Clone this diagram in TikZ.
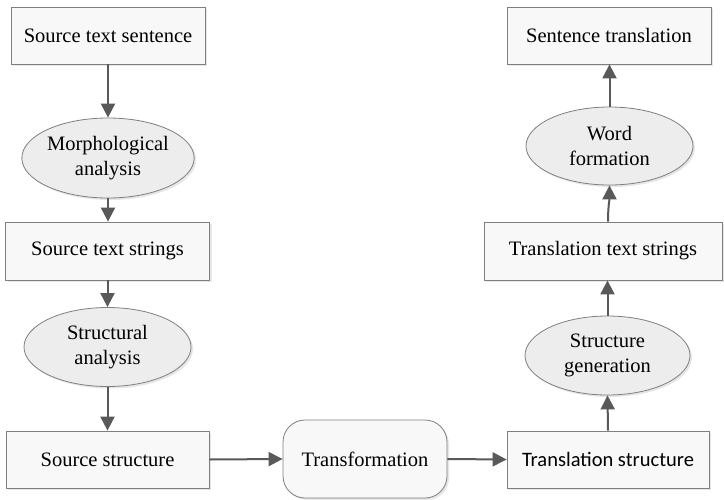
\documentclass[tikz,border=0pt]{standalone}
\usepackage{fontspec}
\setmainfont{Liberation Serif}
\newfontfamily\calfont{Carlito}
\usetikzlibrary{arrows.meta,shadows,shapes.geometric}
\definecolor{arrowgray}{HTML}{595959}
\definecolor{bordergray}{HTML}{7F7F7F}
\definecolor{boxfill}{HTML}{F8F8F8}
\definecolor{ellfill}{HTML}{EDEDED}
\tikzset{
  x=1pt, y=-1pt,
  base/.style={draw=bordergray, line width=0.8pt, align=center, inner sep=0pt,
    font=\fontsize{20.5}{25}\selectfont,
    drop shadow={opacity=0.2, shadow xshift=2pt, shadow yshift=-2pt}},
  rectbox/.style={base, rectangle, fill=boxfill},
  ellbox/.style={base, ellipse, fill=ellfill},
  roundbox/.style={base, rectangle, rounded corners=22pt, fill=boxfill},
  flow/.style={draw=arrowgray, line width=2pt, -{Triangle[length=14pt,width=14pt]}}
}
\begin{document}
\begin{tikzpicture}
\useasboundingbox (0,0) rectangle (724,499);
% left column
\node[rectbox, minimum width=194pt, minimum height=57pt] (sts) at (108,35.5) {Source text sentence};
\node[ellbox, minimum width=166pt, minimum height=80pt] (morph) at (108,158) {Morphological\\analysis};
\node[rectbox, minimum width=204pt, minimum height=58pt] (str) at (107.5,251) {Source text strings};
\node[ellbox, minimum width=167pt, minimum height=79pt] (struct) at (107.5,347) {Structural\\analysis};
\node[rectbox, minimum width=203pt, minimum height=57pt] (ss) at (107.5,459.5) {Source structure};
% middle
\node[roundbox, minimum width=164pt, minimum height=78pt] (trans) at (365,459) {Transformation};
% right column
\node[rectbox, minimum width=202pt, minimum height=57pt, font=\calfont\fontsize{20.5}{25}\selectfont] (ts) at (608,459.5) {Translation structure};
\node[ellbox, minimum width=165pt, minimum height=79pt] (sg) at (607.5,355.5) {Structure\\generation};
\node[rectbox, minimum width=238pt, minimum height=58pt] (tts) at (603,251) {Translation text strings};
\node[ellbox, minimum width=167pt, minimum height=78pt] (wf) at (609.5,146) {Word\\formation};
\node[rectbox, minimum width=204pt, minimum height=57pt] (sent) at (609,35.5) {Sentence translation};
% connectors
\draw[flow] (sts.south) -- (morph.north);
\draw[flow] (morph.south) -- (morph.south |- str.north);
\draw[flow] (str.south) -- (struct.north);
\draw[flow] (struct.south) -- (ss.north);
\draw[flow] (ss.east) -- (trans.west);
\draw[flow] (trans.east) -- (ts.west);
\draw[flow] (ts.north) -- (sg.south);
\draw[flow] (sg.north) -- (sg.north |- tts.south);
\draw[flow] ([xshift=5pt]tts.north) to[out=90,in=-90] (wf.south);
\draw[flow] (wf.north) -- (wf.north |- sent.south);
\end{tikzpicture}
\end{document}
